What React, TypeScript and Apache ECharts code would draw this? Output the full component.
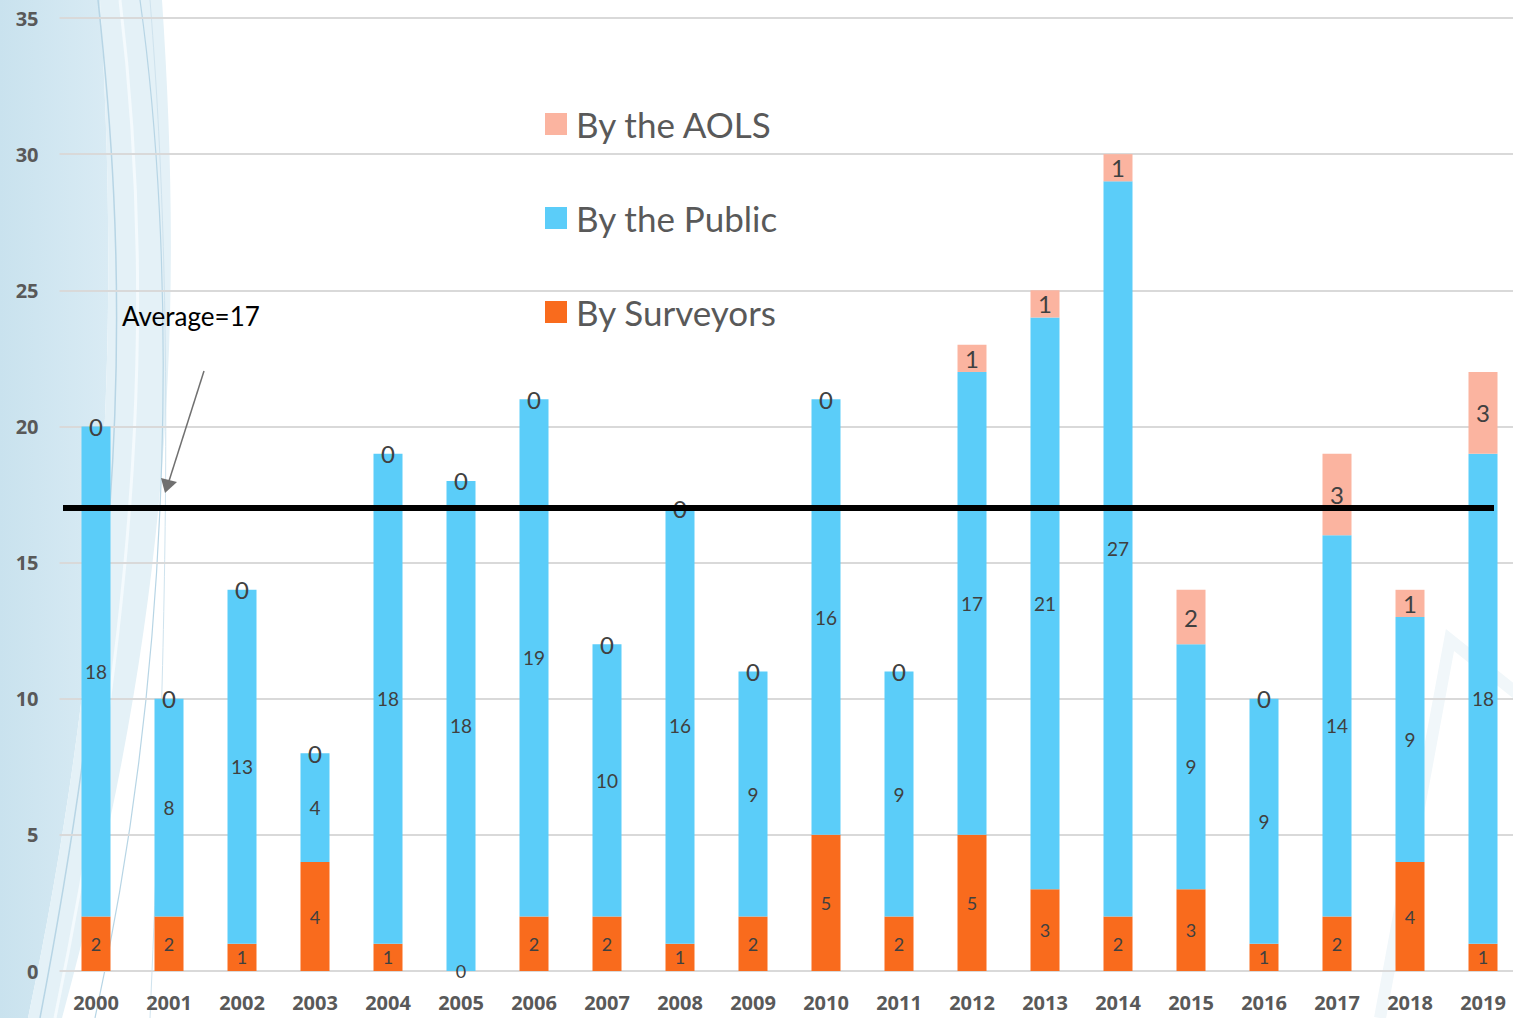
import React, { useEffect, useRef } from "react";
import * as echarts from "echarts";

const years = ["2000","2001","2002","2003","2004","2005","2006","2007","2008","2009","2010","2011","2012","2013","2014","2015","2016","2017","2018","2019"];
const bySurveyors = [2,2,1,4,1,0,2,2,1,2,5,2,5,3,2,3,1,2,4,1];
const byPublic = [18,8,13,4,18,18,19,10,16,9,16,9,17,21,27,9,9,14,9,18];
const byAOLS = [0,0,0,0,0,0,0,0,0,0,0,0,1,1,1,2,0,3,1,3];
const averageValue = 17;
const yTicks = { min: 0, max: 35, interval: 5 };

const FONT = "Lato, 'Open Sans', sans-serif";
const AXIS_FONT = "'Open Sans', Lato, sans-serif";

export default function App() {
  const ref = useRef<HTMLDivElement>(null);
  useEffect(() => {
    if (!ref.current) return;
    echarts.graphic.registerShape(
      "swoosh",
      echarts.graphic.extendPath("M0 0 L100 0 C118 300 112 620 28 1018 L0 1018 Z", {})
    );
    echarts.graphic.registerShape(
      "swoosh2",
      echarts.graphic.extendPath("M100 0 L162 0 C182 300 176 600 62 1018 L28 1018 C112 620 118 300 100 0 Z", {})
    );
    echarts.graphic.registerShape(
      "curve1",
      echarts.graphic.extendPath("M98 0 C125 250 135 520 40 1018", {})
    );
    echarts.graphic.registerShape(
      "curve2",
      echarts.graphic.extendPath("M120 0 C150 250 150 560 55 1018", {})
    );
    echarts.graphic.registerShape(
      "curve3",
      echarts.graphic.extendPath("M140 0 C175 250 178 640 95 1018", {})
    );
    echarts.graphic.registerShape(
      "curve4",
      echarts.graphic.extendPath("M150 0 C170 250 172 520 150 1018", {})
    );
    const chart = echarts.init(ref.current, null, { renderer: "svg" });
    const labelBase = { show: true, position: "inside", color: "#404040", fontFamily: FONT };
    chart.setOption({
      animation: false,
      backgroundColor: "#ffffff",
      grid: { left: 59.5, right: 5.5, top: 18, bottom: 47 },
      legend: {
        orient: "vertical",
        left: 540,
        top: 99,
        itemWidth: 22,
        itemHeight: 22,
        itemGap: 54,
        icon: "rect",
        data: ["By the AOLS", "By the Public", "By Surveyors"],
        textStyle: { fontSize: 35, color: "#595959", fontFamily: FONT, lineHeight: 40, padding: [0, 0, 0, 4] },
      },
      xAxis: {
        type: "category",
        data: years,
        axisLine: { show: false },
        axisTick: { show: false },
        axisLabel: { color: "#595959", fontWeight: "bold", fontSize: 20, margin: 21, fontFamily: AXIS_FONT },
      },
      yAxis: {
        type: "value",
        min: yTicks.min,
        max: yTicks.max,
        interval: yTicks.interval,
        axisLine: { show: false },
        axisTick: { show: false },
        axisLabel: { color: "#595959", fontWeight: "bold", fontSize: 20, margin: 21, fontFamily: AXIS_FONT },
        splitLine: { lineStyle: { color: "#d9d9d9", width: 2 } },
      },
      series: [
        {
          name: "By Surveyors",
          type: "bar",
          stack: "t",
          barWidth: 29,
          data: bySurveyors,
          itemStyle: { color: "#f96b1d" },
          label: { ...labelBase, fontSize: 18 },
        },
        {
          name: "By the Public",
          type: "bar",
          stack: "t",
          barWidth: 29,
          data: byPublic,
          itemStyle: { color: "#5bcdf9" },
          label: { ...labelBase, fontSize: 19 },
        },
        {
          name: "By the AOLS",
          type: "bar",
          stack: "t",
          barWidth: 29,
          data: byAOLS,
          itemStyle: { color: "#fbb4a0" },
          label: { ...labelBase, fontSize: 24 },
        },
      ],
    });
    const yAvg = chart.convertToPixel({ gridIndex: 0 }, [0, averageValue])[1];
    chart.setOption({
      graphic: [
        { type: "swoosh", z: -10, silent: true, style: { fill: new echarts.graphic.LinearGradient(0, 0, 1, 0, [{ offset: 0, color: "#c9e2ee" }, { offset: 1, color: "#d9ebf4" }]) } },
        { type: "swoosh2", z: -10, silent: true, style: { fill: "#e4f1f7" } },
        { type: "curve1", z: -9, silent: true, style: { fill: null, stroke: "#b7d5e5", lineWidth: 1.5 } },
        { type: "curve2", z: -9, silent: true, style: { fill: null, stroke: "#f4fafd", lineWidth: 3 } },
        { type: "curve3", z: -9, silent: true, style: { fill: null, stroke: "#b7d5e5", lineWidth: 1.2 } },
        { type: "curve4", z: -9, silent: true, style: { fill: null, stroke: "#cfe3ee", lineWidth: 1 } },
        { type: "polyline", z: -9, silent: true, shape: { points: [[1380, 1018], [1450, 640], [1525, 700]] }, style: { fill: null, stroke: "#f1f7fa", lineWidth: 12 } },
        { type: "line", z: 50, shape: { x1: 63, y1: yAvg, x2: 1494, y2: yAvg }, style: { stroke: "#000000", lineWidth: 6 } },
        { type: "line", z: 50, shape: { x1: 204, y1: 371, x2: 169, y2: 481 }, style: { stroke: "#707070", lineWidth: 1.5 } },
        { type: "polygon", z: 50, shape: { points: [[165, 493], [161, 478], [177, 482]] }, style: { fill: "#707070" } },
        { type: "text", z: 50, x: 122, y: 316, style: { text: "Average=17", fontSize: 26, fontFamily: FONT, fill: "#000000", verticalAlign: "middle" } },
      ],
    });
    return () => chart.dispose();
  }, []);
  return (
    <div
      ref={ref}
      style={{ position: "absolute", left: 0, top: 0, width: 1525, height: 1018 }}
    />
  );
}
